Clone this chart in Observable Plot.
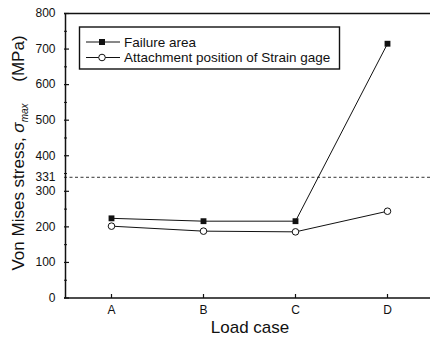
<!DOCTYPE html>
<html><head><meta charset="utf-8">
<script src="https://cdn.jsdelivr.net/npm/d3@7"></script>
<script src="https://cdn.jsdelivr.net/npm/@observablehq/plot@0.6"></script>
<style>body{margin:0;background:#fff}svg{font-family:"Liberation Sans",Arial,sans-serif}</style>
</head><body><div id="chart"></div>
<script>
const cases = ["A","B","C","D"];
const failureArea = [224, 216, 216, 715];
const strainGage = [202, 188, 186, 244];
const limitValue = 331;
const yMajor = [0,100,200,300,400,500,600,700,800];
const yMinor = [50,150,250,350,450,550,650,750];
const seriesNames = ["Failure area","Attachment position of Strain gage"];

const fa = cases.map((c,i)=>({c, v: failureArea[i]}));
const sg = cases.map((c,i)=>({c, v: strainGage[i]}));

const plot = Plot.plot({
  width: 430, height: 345,
  marginLeft: 64, marginRight: 0, marginTop: 13, marginBottom: 47,
  style: {fontFamily: '"Liberation Sans", Arial, sans-serif', fontSize: "12px", color: "#111", background: "#fff"},
  x: {type: "point", domain: cases, range: [64, 434], padding: 0.5},
  y: {domain: [0, 800], range: [297.5, 13]},
  marks: [
    Plot.ruleY([limitValue], {dy: -3, stroke: "#333", strokeWidth: 1, strokeDasharray: "3,2.5"}),
    Plot.axisY({ticks: yMajor, tickSize: 0, tickPadding: 9, label: null, fontSize: 12}),
    Plot.axisY({ticks: [limitValue], tickSize: 0, tickPadding: 9, label: null, fontSize: 12, dy: -3}),
    Plot.axisY({ticks: yMajor, tickSize: 5, dx: 5, text: null, label: null, strokeWidth: 1.2}),
    Plot.axisY({ticks: yMinor, tickSize: 3, dx: 3, text: null, label: null}),
    Plot.axisX({tickSize: 0, tickPadding: 7, label: null, fontSize: 12}),
    Plot.axisX({tickSize: 4, dy: -4, text: null, label: null, strokeWidth: 1.2}),
    Plot.ruleY([0, 800], {stroke: "#111", strokeWidth: 1.5}),
    Plot.ruleX([0], {x: () => cases[0], dx: -46, stroke: "#111", strokeWidth: 1.5}),
    Plot.line(fa, {x: "c", y: "v", stroke: "#111", strokeWidth: 1}),
    Plot.line(sg, {x: "c", y: "v", stroke: "#111", strokeWidth: 1}),
    Plot.dot(fa, {x: "c", y: "v", symbol: "square", r: 3.3, fill: "#111", stroke: "none"}),
    Plot.dot(sg, {x: "c", y: "v", symbol: "circle", r: 3.3, fill: "#fff", stroke: "#111", strokeWidth: 1})
  ]
});
document.getElementById("chart").append(plot);

const svg = d3.select(plot);
// y label
const yl = svg.append("text")
  .attr("transform", "translate(24,153) rotate(-90)")
  .attr("text-anchor", "middle")
  .attr("font-size", 17).attr("fill", "#111");
yl.append("tspan").text("Von Mises stress, ");
yl.append("tspan").attr("font-style", "italic").text("σ");
yl.append("tspan").attr("font-style", "italic").attr("font-size", 10).attr("dy", 4).text("max");
yl.append("tspan").attr("dy", -4).text("\u2003\u00a0(MPa)");
// x label
svg.append("text").attr("x", 250).attr("y", 333).attr("text-anchor", "middle")
  .attr("font-size", 17).attr("fill", "#111").text("Load case");
// legend
const lg = svg.append("g");
lg.append("rect").attr("x", 79.5).attr("y", 27).attr("width", 260).attr("height", 42)
  .attr("fill", "#fff").attr("stroke", "#111").attr("stroke-width", 1.4);
const rows = [42, 57.5];
seriesNames.forEach((name, i) => {
  const y = rows[i];
  lg.append("line").attr("x1", 86).attr("x2", 120).attr("y1", y).attr("y2", y).attr("stroke", "#111").attr("stroke-width", 1);
  if (i === 0) lg.append("rect").attr("x", 99).attr("y", y-3).attr("width", 6).attr("height", 6).attr("fill", "#111");
  else lg.append("circle").attr("cx", 102).attr("cy", y).attr("r", 3.3).attr("fill", "#fff").attr("stroke", "#111");
  lg.append("text").attr("x", 124).attr("y", y).attr("dy", "0.35em").attr("text-anchor", "start")
    .attr("font-size", 13.5).attr("fill", "#111").text(name);
});
</script></body></html>
